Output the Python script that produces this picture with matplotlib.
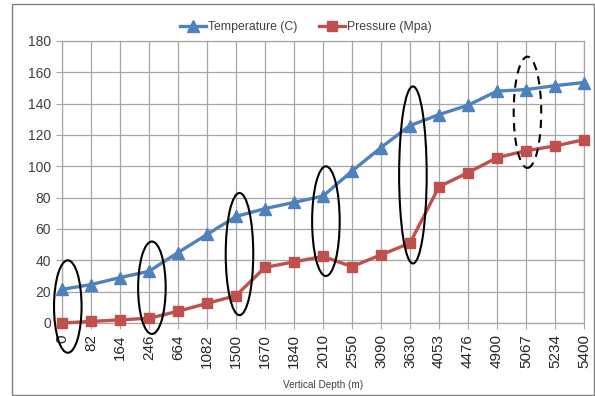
import matplotlib
matplotlib.use('Agg')
import matplotlib.pyplot as plt
from matplotlib.patches import Ellipse, Rectangle

# Data
depth_labels = ['0', '82', '164', '246', '664', '1082', '1500', '1670', '1840', '2010',
                '2550', '3090', '3630', '4053', '4476', '4900', '5067', '5234', '5400']
temperature = [21.5, 24.5, 29, 33, 45, 56.5, 68, 73, 77, 81,
               97, 112, 126, 133, 139, 148, 149, 151.5, 153.5]
pressure = [0, 1, 2, 3, 7.5, 12.5, 17.5, 35.5, 39, 42.5,
            36, 43.5, 51, 87, 96, 105.5, 110, 113, 117]

# Highlight ellipses: (category index, y low, y high, dashed)
highlight_idx = [0.2, 3.1, 6.12, 9.1, 12.1, 16.05]
highlight_lo = [-19, -7, 5, 30, 38, 99]
highlight_hi = [40, 52, 83, 100, 151, 170]
highlight_dashed = [False, False, False, False, False, True]

BLUE = '#4F81BD'
RED = '#C0504D'
GRID = '#A6A6A6'
TEXT = '#404040'

plt.rcParams['font.family'] = ['Liberation Sans', 'DejaVu Sans']

fig = plt.figure(figsize=(5.95, 3.96), dpi=100)
ax = fig.add_axes([62 / 595, 1 - 323 / 396, (584 - 62) / 595, (323 - 41) / 396])

x = list(range(len(depth_labels)))
ax.plot(x, temperature, color=BLUE, lw=2.4, marker='^', markersize=8.5,
        label='Temperature (C)', zorder=3, clip_on=False)
ax.plot(x, pressure, color=RED, lw=2.4, marker='s', markersize=7,
        label='Pressure (Mpa)', zorder=3, clip_on=False)

for cx, lo, hi, dashed in zip(highlight_idx, highlight_lo, highlight_hi, highlight_dashed):
    e = Ellipse((cx, (lo + hi) / 2), width=0.95, height=hi - lo, fill=False,
                edgecolor='black', lw=1.5, ls=(0, (4, 3)) if dashed else '-',
                zorder=4, clip_on=False)
    ax.add_patch(e)

ax.set_xlim(0, len(depth_labels) - 1)
ax.set_ylim(0, 180)
ax.set_yticks(range(0, 181, 20))
ax.set_xticks(x)
ax.set_xticklabels(depth_labels, rotation=90, fontsize=11, color='#262626')
ax.tick_params(axis='y', labelsize=10, colors=TEXT, length=4, color=GRID, pad=4)
ax.tick_params(axis='x', length=4, color=GRID, pad=4)
ax.grid(True, color=GRID, lw=0.9)
ax.set_axisbelow(True)
for s in ax.spines.values():
    s.set_color(GRID)
    s.set_linewidth(0.9)

fig.text(323 / 595, 1 - 385 / 396, 'Vertical Depth (m)', ha='center', va='center',
         fontsize=7.2, color=TEXT)

fig.legend(loc='center', bbox_to_anchor=(306 / 595, 1 - 27 / 396), ncol=2,
           frameon=False, fontsize=8.8, handlelength=2.1, handletextpad=0.2,
           columnspacing=1.8, labelcolor=TEXT)

# outer chart border
fig.patches.append(Rectangle((12 / 595, 1 / 396), 582 / 595, 391 / 396,
                             transform=fig.transFigure, fill=False,
                             edgecolor='#808080', lw=1.0))

fig.savefig('out.png', dpi=100)
